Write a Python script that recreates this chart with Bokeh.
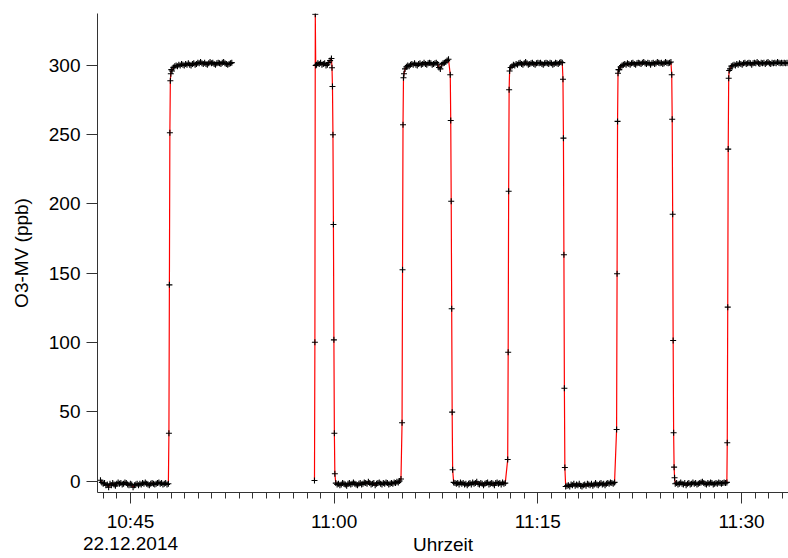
import math
from bokeh.plotting import figure
from bokeh.models import LinearAxis, FixedTicker, Range1d
from bokeh.embed import file_html
from bokeh.resources import INLINE

# ---- data: O3 (ppb) versus time (minutes after 10:00, 22.12.2014) ----
low_1 = [0.5, -1.0, -2.0, -1.5, -3.0, -2.5, -4.5, -2.0, -3.0, -1.5,
         -2.5, -3.5, -2.0, -1.0, -2.0, -1.5, -2.5, -2.0, -1.0, -1.5,
         -2.5, -3.0, -2.0, -2.5, -4.5, -3.0, -2.5, -2.0, -3.0, -2.0,
         -2.5, -1.5, -2.0, -1.0, -2.0, -2.5, -3.0, -2.0, -1.5, -2.0,
         -2.5, -2.0, -1.5, -1.0, -2.0, -1.5, -2.5, -2.0, -1.5, -2.5, -2.0]
rise_1 = [34.5, 141.6, 251.4, 289.0, 294.0, 297.0]
high_1 = [296.0, 298.5, 299.5, 300.0, 299.5, 300.5, 300.0, 301.0, 300.5, 300.0,
          301.0, 300.5, 301.5, 300.5, 300.0, 301.0, 301.5, 300.5, 301.0, 302.0,
          301.5, 302.5, 301.5, 301.0, 302.0, 301.0, 300.5, 301.5, 302.5, 301.5,
          302.0, 301.0, 300.5, 301.5, 302.0, 301.5, 301.0, 302.0, 302.5, 301.5,
          301.0, 300.5, 301.0, 301.5, 302.0]
rise_2 = [0.4, 100.2, 337.0, 300.0]
high_2 = [300.5, 301.5, 301.0, 302.0, 300.5, 301.0, 301.5, 300.0, 300.5, 302.0, 303.5, 305.0]
fall_2 = [298.3, 284.8, 250.0, 185.2, 101.9, 34.5, 5.2]
low_2 = [-1.5, -2.5, -2.0, -3.0, -2.5, -1.5, -2.0, -2.5, -3.5, -2.0,
         -1.5, -2.5, -2.0, -1.0, -2.0, -2.5, -3.0, -2.0, -1.5, -2.5,
         -2.0, -1.0, -1.5, -2.0, -0.5, -1.5, -2.5, -2.0, -1.5, -3.0,
         -2.0, -1.5, -1.0, -2.0, -2.5, -1.5, -2.0, -1.0, -1.5, -2.5,
         -2.0, -1.5, -2.0, -1.0, -1.5, -0.5, -1.0, 0.0, 1.5]
rise_3 = [42.0, 152.5, 257.2, 291.1, 294.0]
high_3 = [297.5, 299.0, 300.0, 299.5, 300.5, 301.0, 300.5, 301.5, 300.5, 300.0,
          301.0, 301.5, 300.5, 301.0, 302.0, 301.0, 300.5, 301.5, 302.0, 301.5,
          300.5, 301.0, 301.5, 302.0, 301.0, 298.5, 297.5, 300.5, 301.5, 302.0,
          302.5, 303.5, 304.5]
fall_3 = [293.3, 260.3, 202.0, 124.3, 49.7, 8.1]
low_3 = [-1.0, -1.5, -2.0, -1.5, -2.5, -1.0, -2.0, -1.5, -2.5, -2.0,
         -3.0, -2.0, -1.5, -2.5, -1.0, -2.0, -1.5, -0.5, -2.0, -2.5,
         -1.5, -2.0, -3.0, -2.0, -1.5, -1.0, -2.5, -2.0, -1.5, -2.0,
         -3.0, -1.5, -1.0, -2.0, -1.5, -2.5, -1.0, -2.0, -1.5]
rise_4 = [15.5, 93.0, 209.2, 282.4, 296.0]
high_4 = [298.5, 299.5, 300.5, 300.0, 301.0, 300.5, 301.5, 302.0, 301.0, 300.5,
          301.5, 302.5, 301.5, 300.5, 301.0, 301.5, 302.0, 301.0, 300.5, 301.5,
          302.0, 301.5, 302.0, 301.0, 300.5, 301.5, 302.0, 301.5, 301.0, 302.0,
          301.5, 300.5, 301.0, 302.0, 301.5, 301.0, 302.0, 302.5, 302.0]
fall_4 = [290.0, 247.5, 163.3, 67.0, 9.7]
low_4 = [-4.0, -3.5, -3.0, -4.0, -2.5, -3.0, -2.0, -3.5, -2.5, -3.0,
         -2.0, -3.5, -4.0, -3.0, -2.5, -3.5, -2.0, -2.5, -3.0, -2.0,
         -3.5, -2.5, -1.5, -2.5, -3.0, -2.0, -1.5, -2.5, -2.0, -3.0,
         -2.0, -1.5, -2.0, -1.0, -1.5, -2.0, -1.0]
rise_5 = [37.2, 149.6, 259.6, 294.4, 297.0]
high_5 = [297.0, 299.0, 300.0, 300.5, 301.0, 300.5, 301.5, 301.0, 300.5, 301.5,
          302.0, 301.0, 300.5, 301.5, 302.0, 301.5, 301.0, 302.0, 302.5, 301.5,
          301.0, 302.0, 301.5, 300.5, 301.5, 302.0, 301.0, 301.5, 302.5, 302.0,
          301.5, 302.0, 301.0, 301.5, 302.5, 302.0, 301.5, 302.0, 302.5]
fall_5 = [293.3, 261.2, 192.6, 101.4, 34.8, 10.0, 2.3]
low_5 = [-2.0, -1.5, -2.5, -2.0, -1.0, -2.0, -2.5, -1.5, -3.0, -2.0,
         -1.5, -2.5, -2.0, -1.0, -2.0, -1.5, -2.5, -2.0, -1.5, -1.0,
         -0.5, -1.5, -2.0, -2.5, -1.5, -2.0, -1.0, -1.5, -2.5, -2.0,
         -1.5, -2.0, -1.0, -1.5, -2.0, -1.5, -1.0, -1.5, -1.0]
rise_6 = [27.6, 125.5, 239.6, 290.8, 296.4]
high_6 = [297.5, 299.5, 300.0, 300.5, 300.0, 301.0, 300.5, 301.5, 301.0, 300.5,
          301.5, 302.0, 301.0, 301.5, 302.0, 301.5, 300.5, 301.5, 302.0, 301.5,
          302.5, 301.5, 301.0, 302.0, 301.5, 302.0, 301.0, 302.0, 302.5, 301.5,
          301.0, 302.0, 301.5, 302.0, 301.5, 302.5, 302.0, 301.5, 302.0, 301.5,
          302.0, 301.5, 302.0, 301.5]

# (start minute after 10:00, sampling interval in minutes, values); None = gap in record
segments = [
    (42.79, 0.1, low_1), (47.83, 0.035, rise_1), (48.06, 0.1, high_1), None,
    (58.55, 0.03, rise_2), (58.70, 0.1, high_2), (59.84, 0.035, fall_2),
    (60.12, 0.1, low_2), (65.00, 0.035, rise_3), (65.22, 0.1, high_3),
    (68.55, 0.035, fall_3), (68.80, 0.1, low_3), (72.78, 0.035, rise_4),
    (73.00, 0.1, high_4), (76.85, 0.035, fall_4), (77.05, 0.1, low_4),
    (80.80, 0.035, rise_5), (81.00, 0.1, high_5), (84.86, 0.035, fall_5),
    (85.12, 0.1, low_5), (88.95, 0.035, rise_6), (89.15, 0.1, high_6),
]

tick_minutes = [45, 60, 75, 90]
tick_labels = ["10:45\n22.12.2014", "11:00", "11:15", "11:30"]
mid_minutes = [50, 55, 65, 70, 80, 85]
minor_minutes = list(range(43, 94))
y_ticks = [0, 50, 100, 150, 200, 250, 300]

xs, ys = [], []
for seg in segments:
    if seg is None:
        xs.append(math.nan)
        ys.append(math.nan)
        continue
    t0, dt, vals = seg
    for i, v in enumerate(vals):
        xs.append(t0 + i * dt)
        ys.append(v)

FONT = "Liberation Sans"
FS = "19px"
Y0, Y1 = -8.3, 337.5
AX = "#333333"

p = figure(frame_width=691, frame_height=479, output_backend="svg", toolbar_location=None,
           x_range=Range1d(42.57, 93.46), y_range=Range1d(Y0, Y1),
           x_axis_type=None, y_axis_type=None,
           min_border_left=97, min_border_right=0, min_border_top=13, min_border_bottom=66)
p.outline_line_color = None
p.background_fill_color = "white"
p.border_fill_color = "white"

p.line(xs, ys, line_color="red", line_width=1.2)
p.scatter(xs, ys, marker="cross", size=6, line_color="black", line_width=1.1)

xaxis = LinearAxis(ticker=FixedTicker(ticks=tick_minutes, minor_ticks=minor_minutes),
                   major_label_overrides={m: s for m, s in zip(tick_minutes, tick_labels)},
                   major_tick_out=11, major_tick_in=0, minor_tick_out=6, minor_tick_in=0,
                   major_label_standoff=7,
                   major_label_text_font=FONT, major_label_text_font_size=FS,
                   major_label_text_color="black", major_label_text_line_height=1.05,
                   axis_label="Uhrzeit", axis_label_text_font=FONT,
                   axis_label_text_font_size=FS, axis_label_text_font_style="normal",
                   axis_label_text_color="black", axis_label_standoff=-23,
                   axis_line_color=AX, major_tick_line_color=AX, minor_tick_line_color=AX)
p.add_layout(xaxis, "below")

midaxis = LinearAxis(ticker=FixedTicker(ticks=mid_minutes, minor_ticks=[]),
                     fixed_location=Y0, major_tick_out=9, major_tick_in=0,
                     minor_tick_out=0, minor_tick_in=0, axis_line_color=None,
                     major_tick_line_color=AX, major_label_text_color=None,
                     major_label_text_font_size="1px")
p.add_layout(midaxis, "below")

yaxis = LinearAxis(ticker=FixedTicker(ticks=y_ticks, minor_ticks=[]),
                   major_tick_out=11, major_tick_in=0, minor_tick_out=0, minor_tick_in=0,
                   major_label_standoff=6,
                   major_label_text_font=FONT, major_label_text_font_size=FS,
                   major_label_text_color="black",
                   axis_label="O3-MV (ppb)", axis_label_text_font=FONT,
                   axis_label_text_font_size=FS, axis_label_text_font_style="normal",
                   axis_label_text_color="black", axis_label_standoff=14,
                   axis_line_color=AX, major_tick_line_color=AX)
p.add_layout(yaxis, "left")

open("out.html", "w").write(file_html(p, INLINE))
